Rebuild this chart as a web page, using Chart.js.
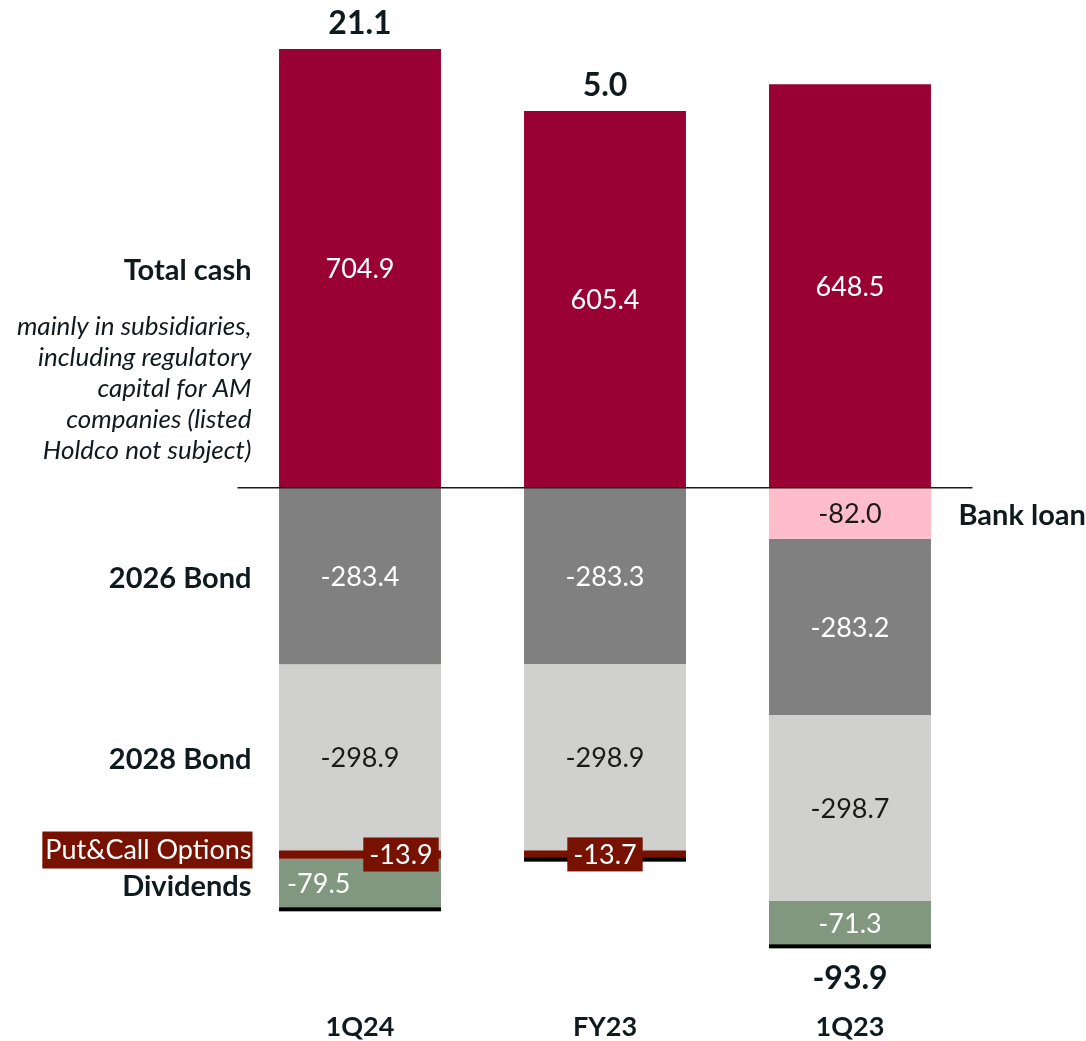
<!DOCTYPE html>
<html>
<head>
<meta charset="utf-8">
<script src="https://cdn.jsdelivr.net/npm/chart.js@4.4.1/dist/chart.umd.min.js"></script>
<style>
	html, body { margin: 0; padding: 0; background: #fff; }
	canvas { display: block; }
</style>
</head>
<body>
<canvas id="cashChart" width="1086" height="1041"></canvas>
<script>
const categories = ['1Q24', 'FY23', '1Q23'];
const totalCash = [704.9, 605.4, 648.5];
const bankLoan = [null, null, -82.0];
const bond2026 = [-283.4, -283.3, -283.2];
const bond2028 = [-298.9, -298.9, -298.7];
const putCallOptions = [-13.9, -13.7, null];
const dividends = [-79.5, null, -71.3];
const netCash = [21.1, 5.0, -93.9];

const FONT = 'Lato';
const INK = '#0f1a1f';

// per-series label styling used by the overlay plugin
// dx: horizontal shift per bar, left: bars whose label hugs the left edge
const segmentStyles = [
	{ color: '#ffffff' },
	{ color: '#1a1a1a' },
	{ color: '#ffffff' },
	{ color: '#1a1a1a' },
	{ color: '#ffffff', box: '#771100', dx: [41, 0, 0] },
	{ color: '#ffffff', left: [true, false, false], dx: [8, 0, 0] }
];

// captions next to the bars: dataset index, bar index, side, extra y shift
const captions = [
	{ text: 'Total cash', ds: 0, bar: 0, dy: 1 },
	{ text: 'Bank loan', ds: 1, bar: 2, side: 'right', dy: 1 },
	{ text: '2026 Bond', ds: 2, bar: 0, dy: 2 },
	{ text: '2028 Bond', ds: 3, bar: 0, dy: 1 },
	{ text: 'Put&Call Options', ds: 4, bar: 0, dy: -5, box: '#771100', color: '#ffffff', weight: 'normal', size: 27 },
	{ text: 'Dividends', ds: 5, bar: 0, dy: 2 }
];
const cashNote = [
	'mainly in subsidiaries,',
	'including regulatory',
	'capital for AM',
	'companies (listed',
	'Holdco not subject)'
];

const overlay = {
	id: 'overlay',
	afterDatasetsDraw(chart) {
		const ctx = chart.ctx;
		const area = chart.chartArea;
		const yScale = chart.scales.y;
		const zeroY = yScale.getPixelForValue(0);

		ctx.save();
		ctx.textBaseline = 'middle';

		// black rule under the bottom of each stack
		categories.forEach((c, j) => {
			let bottom = null, el = null;
			chart.data.datasets.forEach((ds, i) => {
				const v = ds.data[j];
				if (v === null || v >= 0) return;
				const bar = chart.getDatasetMeta(i).data[j];
				if (bottom === null || bar.y > bottom) { bottom = bar.y; el = bar; }
			});
			if (el) {
				ctx.fillStyle = '#000000';
				ctx.fillRect(el.x - el.width / 2, bottom - 1, el.width, 4);
			}
		});

		// zero line
		ctx.strokeStyle = '#1a1a1a';
		ctx.lineWidth = 1.5;
		ctx.beginPath();
		ctx.moveTo(area.left, zeroY);
		ctx.lineTo(area.right, zeroY);
		ctx.stroke();

		// segment values
		chart.data.datasets.forEach((ds, i) => {
			const st = segmentStyles[i];
			chart.getDatasetMeta(i).data.forEach((bar, j) => {
				const v = ds.data[j];
				if (v === null) return;
				const text = v.toFixed(1);
				const cy = (bar.y + bar.base) / 2;
				const dx = st.dx ? st.dx[j] : 0;
				ctx.font = `27px ${FONT}`;
				let x = bar.x + dx;
				if (st.left && st.left[j]) {
					x = bar.x - bar.width / 2 + dx;
					ctx.textAlign = 'left';
				} else {
					ctx.textAlign = 'center';
				}
				if (st.box) {
					const w = ctx.measureText(text).width + 12;
					ctx.fillStyle = st.box;
					ctx.fillRect(x - w / 2, cy - 17, w, 34);
				}
				ctx.fillStyle = st.color;
				ctx.fillText(text, x, cy + 1);
			});
		});

		// net totals above or below each stack
		ctx.font = `bold 32px ${FONT}`;
		ctx.textAlign = 'center';
		ctx.fillStyle = INK;
		netCash.forEach((v, j) => {
			let top = zeroY, bottom = zeroY, x = 0;
			chart.data.datasets.forEach((ds, i) => {
				if (ds.data[j] === null) return;
				const bar = chart.getDatasetMeta(i).data[j];
				x = bar.x;
				top = Math.min(top, bar.y);
				bottom = Math.max(bottom, bar.y);
			});
			const y = v >= 0 ? top - 25 : bottom + 33;
			ctx.fillText(v.toFixed(1), x, y);
		});

		// captions
		captions.forEach(cap => {
			const bar = chart.getDatasetMeta(cap.ds).data[cap.bar];
			const cy = (bar.y + bar.base) / 2 + cap.dy;
			ctx.font = `${cap.weight || 'bold'} ${cap.size || 29}px ${FONT}`;
			let x;
			if (cap.side === 'right') {
				x = area.right - 14;
				ctx.textAlign = 'left';
			} else {
				x = area.left + 14;
				ctx.textAlign = 'right';
			}
			if (cap.box) {
				const w = ctx.measureText(cap.text).width + 4;
				ctx.fillStyle = cap.box;
				ctx.fillRect(x - w + 1, cy - 18, w, 37);
			}
			ctx.fillStyle = cap.color || INK;
			ctx.fillText(cap.text, x, cy + 1);
		});

		// note under "Total cash"
		const cashBar = chart.getDatasetMeta(0).data[0];
		const noteTop = (cashBar.y + cashBar.base) / 2 + 58;
		ctx.font = `italic 26px ${FONT}`;
		ctx.textAlign = 'right';
		ctx.fillStyle = INK;
		cashNote.forEach((line, k) => {
			ctx.fillText(line, area.left + 14, noteTop + k * 31);
		});

		ctx.restore();
	}
};

const ctx = document.getElementById('cashChart').getContext('2d');
new Chart(ctx, {
	type: 'bar',
	data: {
		labels: categories,
		datasets: [
			{ label: 'Total cash', data: totalCash, backgroundColor: '#990033' },
			{ label: 'Bank loan', data: bankLoan, backgroundColor: '#ffbccb' },
			{ label: '2026 Bond', data: bond2026, backgroundColor: '#808080' },
			{ label: '2028 Bond', data: bond2028, backgroundColor: '#d0d0ce' },
			{ label: 'Put&Call Options', data: putCallOptions, backgroundColor: '#771100' },
			{ label: 'Dividends', data: dividends, backgroundColor: '#82977f' }
		]
	},
	options: {
		responsive: false,
		maintainAspectRatio: false,
		animation: false,
		categoryPercentage: 1,
		barPercentage: 0.661,
		layout: {
			padding: { left: 237.5, right: 113.5, top: 21, bottom: 0 }
		},
		plugins: {
			legend: { display: false },
			tooltip: { enabled: false }
		},
		scales: {
			x: {
				stacked: true,
				grid: { display: false, drawTicks: false },
				border: { display: false },
				afterFit: (scale) => { scale.height = 69; },
				ticks: {
					padding: 39,
					color: INK,
					font: { family: FONT, size: 27, weight: 'bold' }
				}
			},
			y: {
				stacked: true,
				display: false,
				min: -778,
				max: 750
			}
		}
	},
	plugins: [overlay]
});
</script>
</body>
</html>
